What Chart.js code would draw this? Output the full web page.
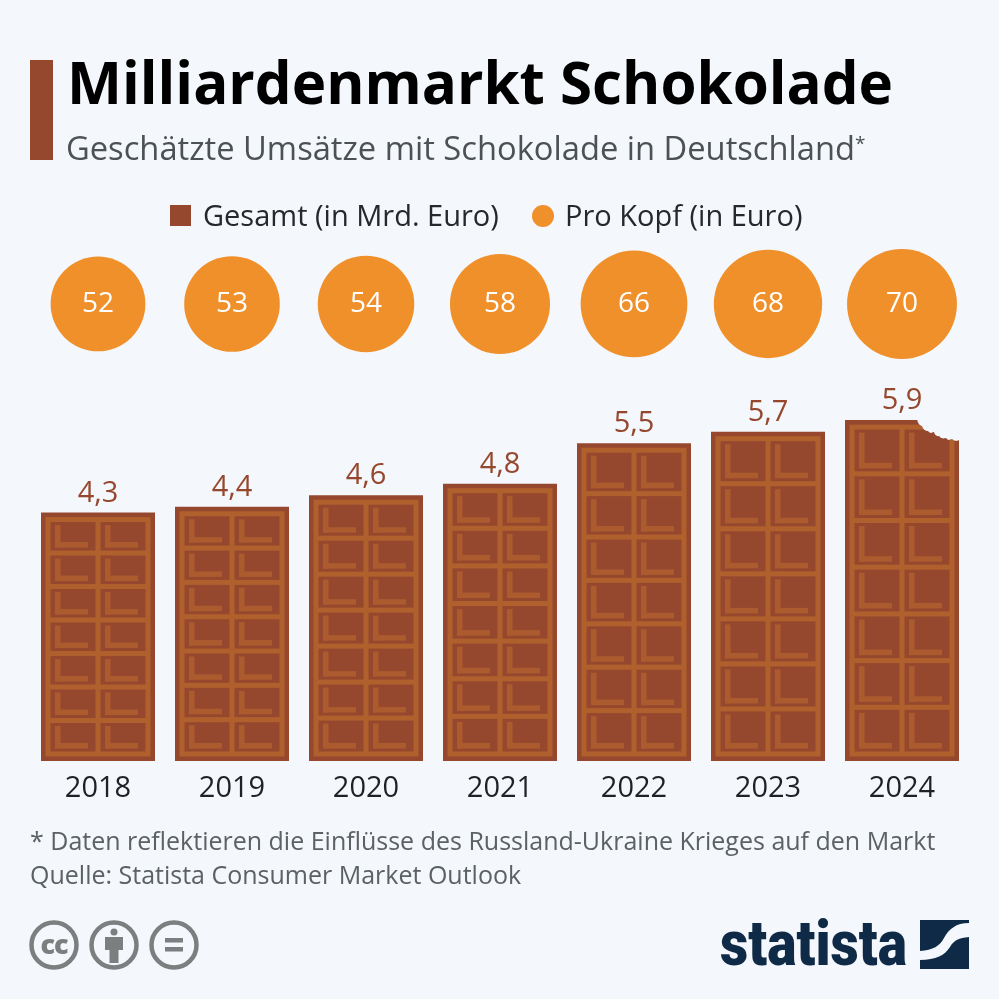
<!DOCTYPE html>
<html lang="de">
<head>
<meta charset="utf-8">
<script src="https://cdn.jsdelivr.net/npm/chart.js@4"></script>
<style>
  body { margin: 0; background: #f4f7fb; font-family: "Open Sans", sans-serif; }
  #page { position: relative; width: 999px; height: 999px; overflow: hidden; }
  #chart { position: absolute; left: 0; top: 0; }
  .txt { position: absolute; white-space: nowrap; line-height: 1; }
  #accent { position: absolute; left: 30px; top: 60px; width: 23px; height: 100px; background: #96482f; }
  #title { left: 67px; top: 53px; font-size: 58.3px; font-weight: 700; color: #000; }
  #subtitle { left: 66px; top: 132px; font-size: 32.7px; color: #4c5155; }
  #subtitle sup { font-size: 19px; line-height: 0; vertical-align: 10px; }
  .legend-text { top: 200px; font-size: 29px; color: #26292c; }
  .foot { left: 30px; font-size: 25px; color: #5c6165; }
  #logo { left: 720px; top: 912px; font-family: "Roboto", sans-serif; font-weight: 900; font-size: 63px; color: #0f2a47; transform-origin: left top; transform: scaleX(0.875); }
</style>
</head>
<body>
<div id="page">
  <canvas id="chart" width="999" height="999"></canvas>
  <div id="accent"></div>
  <div class="txt" id="title">Milliardenmarkt Schokolade</div>
  <div class="txt" id="subtitle">Geschätzte Umsätze mit Schokolade in Deutschland<sup>*</sup></div>

  <div style="position:absolute;left:170px;top:205px;width:21px;height:21px;background:#96482f"></div>
  <div class="txt legend-text" style="left:203px">Gesamt (in Mrd. Euro)</div>
  <div style="position:absolute;left:532px;top:205px;width:22px;height:22px;border-radius:50%;background:#f0902b"></div>
  <div class="txt legend-text" style="left:565px">Pro Kopf (in Euro)</div>

  <div class="txt foot" style="top:828px">* Daten reflektieren die Einflüsse des Russland-Ukraine Krieges auf den Markt</div>
  <div class="txt foot" style="top:862px">Quelle: Statista Consumer Market Outlook</div>

  <svg style="position:absolute;left:28px;top:920px" width="175" height="52" viewBox="0 0 175 52">
    <g fill="none" stroke="#7b7f80" stroke-width="4.5">
      <circle cx="26" cy="25" r="22.5"/>
      <circle cx="86" cy="25" r="22.5"/>
      <circle cx="146" cy="25" r="22.5"/>
    </g>
    <text x="26" y="34" text-anchor="middle" font-family="Open Sans" font-weight="800" font-size="27" fill="#7b7f80" letter-spacing="-1">cc</text>
    <g fill="#7b7f80">
      <circle cx="86" cy="12" r="3.5"/>
      <path d="M77 17h18v13h-4.5v13h-9V30H77z"/>
      <rect x="137" y="18" width="18" height="4.5"/>
      <rect x="137" y="27" width="18" height="4.5"/>
    </g>
  </svg>

  <div class="txt" id="logo">statista</div>
  <svg style="position:absolute;left:920px;top:920px" width="50" height="50" viewBox="0 0 50 50">
    <path fill="#0f2a47" d="M0 0H49V3C36 3 29 9 24 18C20 26 13 30 0 31Z"/>
    <path fill="#0f2a47" d="M49 17V49H0V40C16 40 25 35 30 27C34 20 39 18 49 17Z"/>
  </svg>
</div>

<script>
const anos = ['2018', '2019', '2020', '2021', '2022', '2023', '2024'];
const gesamt = [4.3, 4.4, 4.6, 4.8, 5.5, 5.7, 5.9];
const proKopf = [52, 53, 54, 58, 66, 68, 70];

const corFundo = '#f4f7fb';
const corEscura = '#96482f';
const corClara = '#b0602d';
const corRelevo = '#ab5b2e';
const corLaranja = '#f0902b';

const linhaBolhas = 7.91;
const escalaBolha = 6.57;

// desenha as barras como tabletes de chocolate
function desenharTablete(ctx, x, y, w, h) {
  const borda = 4.5, faixa = 5, div = 5;
  const colunas = 2, linhas = 7;

  ctx.fillStyle = corClara;
  ctx.fillRect(x + borda, y + borda, w - 2 * borda, h - 2 * borda);

  const cw = (w - 2 * borda - 2 * faixa - div) / colunas;
  const ch = (h - 2 * borda - 2 * faixa - (linhas - 1) * div) / linhas;

  for (let l = 0; l < linhas; l++) {
    for (let c = 0; c < colunas; c++) {
      const cx = x + borda + faixa + c * (cw + div);
      const cy = y + borda + faixa + l * (ch + div);
      ctx.fillStyle = corEscura;
      ctx.fillRect(cx, cy, cw, ch);
      ctx.fillStyle = corRelevo;
      ctx.fillRect(cx + 4.5, cy + 3, 5.5, ch - 6);
      ctx.fillRect(cx + 4.5, cy + ch - 8.5, cw - 12, 5.5);
    }
  }
}

const pluginChocolate = {
  id: 'chocolate',
  afterDatasetsDraw(chart) {
    const ctx = chart.ctx;
    const barras = chart.getDatasetMeta(0).data;
    barras.forEach((b, i) => {
      const w = b.width, h = b.base - b.y;
      desenharTablete(ctx, b.x - w / 2, b.y, w, h);

      ctx.fillStyle = corEscura;
      ctx.font = '500 29px "Open Sans"';
      ctx.textAlign = 'center';
      ctx.textBaseline = 'middle';
      ctx.fillText(String(gesamt[i]).replace('.', ','), b.x, b.y - 19);
    });

    // mordida no ultimo tablete
    const ult = barras[barras.length - 1];
    const dir = ult.x + ult.width / 2 + 1, topo = ult.y - 1;
    const recorte = [[-43, 0], [-38, 7], [-32, 12], [-26, 13], [-21, 17], [-14, 19], [-8, 20], [0, 21]];
    ctx.fillStyle = corFundo;
    ctx.beginPath();
    ctx.moveTo(dir + recorte[0][0], topo + recorte[0][1]);
    for (let i = 1; i < recorte.length; i++) {
      const [ax, ay] = recorte[i - 1];
      const [bx, by] = recorte[i];
      ctx.quadraticCurveTo(dir + (ax + bx) / 2 - 1.5, topo + (ay + by) / 2 + 2.5, dir + bx, topo + by);
    }
    ctx.lineTo(dir, topo);
    ctx.closePath();
    ctx.fill();

    // valores dentro das bolhas
    chart.getDatasetMeta(1).data.forEach((p, i) => {
      ctx.fillStyle = '#ffffff';
      ctx.font = '500 28px "Open Sans"';
      ctx.textAlign = 'center';
      ctx.textBaseline = 'middle';
      ctx.fillText(String(proKopf[i]), p.x, p.y);
    });
  }
};

new Chart(document.getElementById('chart'), {
  data: {
    labels: anos,
    datasets: [
      {
        type: 'bar',
        label: 'Gesamt (in Mrd. Euro)',
        data: gesamt,
        backgroundColor: corEscura,
        categoryPercentage: 1,
        barPercentage: 114 / 134
      },
      {
        type: 'bubble',
        label: 'Pro Kopf (in Euro)',
        data: anos.map((a, i) => ({ x: a, y: linhaBolhas, r: Math.sqrt(proKopf[i]) * escalaBolha })),
        backgroundColor: corLaranja,
        borderWidth: 0
      }
    ]
  },
  options: {
    responsive: false,
    animation: false,
    layout: { autoPadding: false, padding: { left: 31, right: 30, top: 241, bottom: 0 } },
    plugins: { legend: { display: false }, tooltip: { enabled: false } },
    scales: {
      x: {
        type: 'category',
        offset: true,
        grid: { display: false },
        border: { display: false },
        afterFit(scale) { scale.height = 238; },
        ticks: { color: '#1f2225', font: { family: 'Open Sans', size: 29 }, padding: 2, maxRotation: 0 }
      },
      y: { display: false, min: 0, max: 9 }
    }
  },
  plugins: [pluginChocolate]
});
</script>
</body>
</html>
